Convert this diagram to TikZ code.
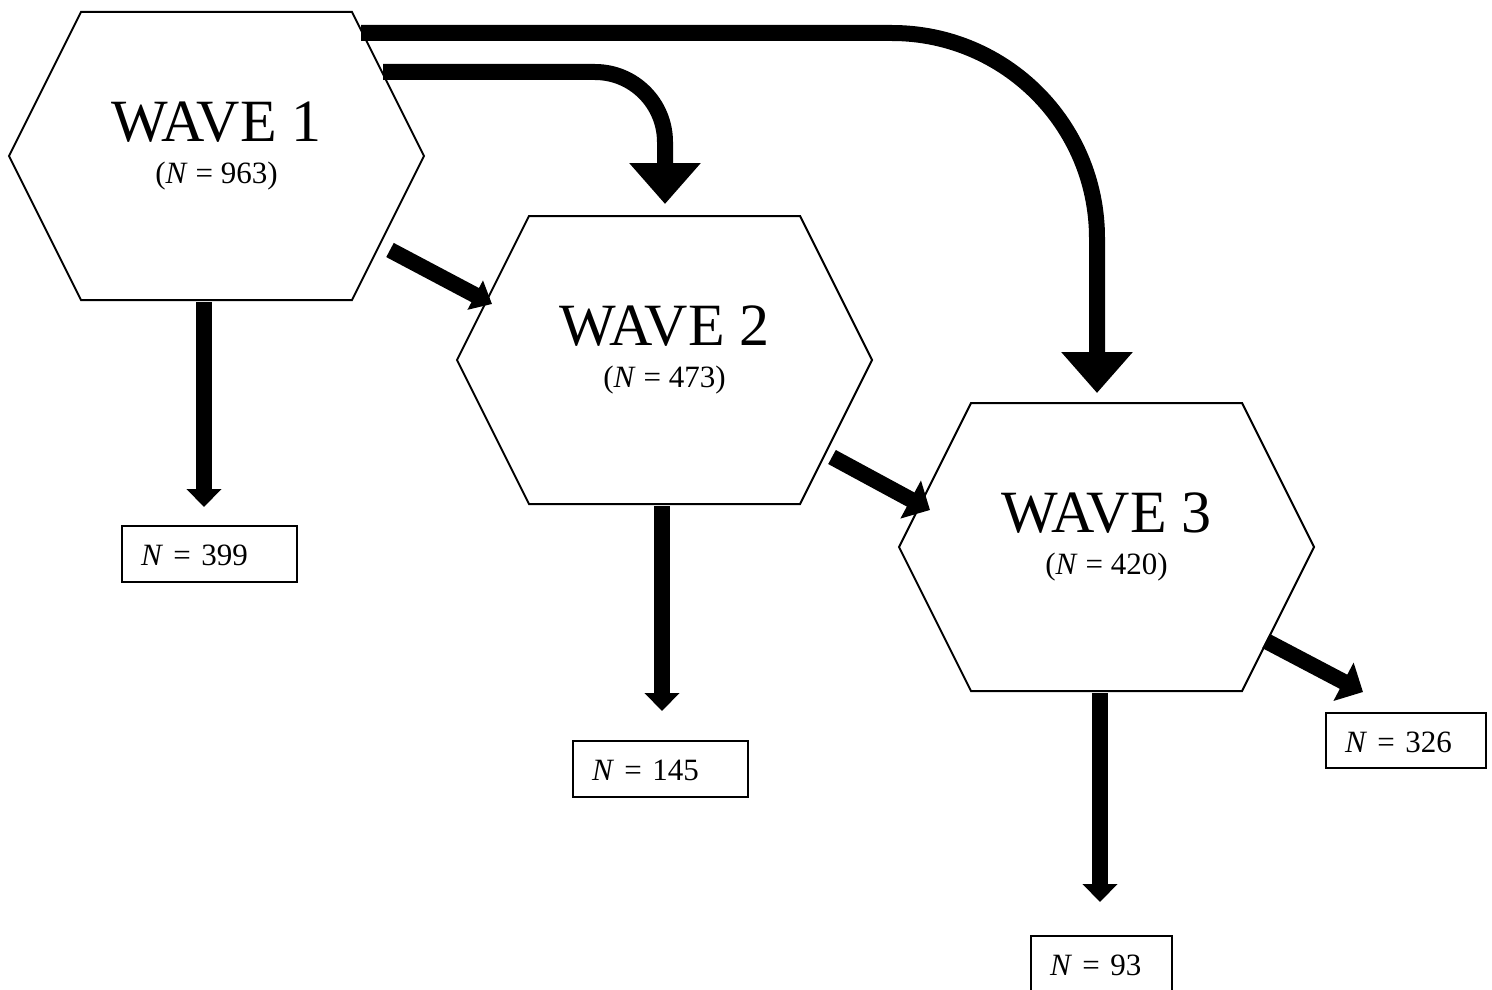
\documentclass[tikz,border=0pt]{standalone}
\usepackage{fontspec}
\setmainfont{Liberation Serif}
\usetikzlibrary{arrows.meta,calc}

\tikzset{
  hexbox/.style={minimum width=415pt, minimum height=288pt, inner sep=0pt, outer sep=0pt, draw=none},
  hexline/.style={line width=2pt, line join=miter},
  titletext/.style={anchor=base, inner sep=0pt, font=\fontsize{60}{72}\selectfont},
  subtext/.style={anchor=base, inner sep=0pt, font=\fontsize{31}{36}\selectfont},
  numbox/.style={draw, line width=2pt, outer sep=0pt, anchor=north west, inner xsep=19pt, inner ysep=0pt,
    text height=39pt, text depth=17pt, align=left, font=\fontsize{31}{36}\selectfont},
  flow/.style={line width=16pt},
  bigtip/.style={-{Triangle[width=69pt,length=41pt]}},
  downtip/.style={-{Triangle[width=34pt,length=18pt]}},
  slanttip/.style={-{Triangle[width=42pt,length=22pt]}},
  smalltip/.style={-{Triangle[width=32pt,length=19pt]}},
}

\begin{document}
\begin{tikzpicture}[x=1pt, y=-1pt]
  \useasboundingbox (0,0) rectangle (1492,990);

  % the three waves
  \node[hexbox] (w1) at (216.5,156) {};
  \node[hexbox] (w2) at (664.5,360) {};
  \node[hexbox] (w3) at (1106.5,547) {};
  \foreach \h in {w1,w2,w3}
    \draw[hexline] ($(\h.center)+(-135.5,-144)$) -- ++(271,0) -- ++(72,144)
      -- ++(-72,144) -- ++(-271,0) -- ++(-72,-144) -- cycle;

  \node[titletext] (w1t) at ($(w1.center)+(0,-15)$) {WAVE 1};
  \node[subtext]   (w1n) at ($(w1.center)+(0,27)$)  {(\textit{N} = 963)};
  \node[titletext] (w2t) at ($(w2.center)+(0,-15)$) {WAVE 2};
  \node[subtext]   (w2n) at ($(w2.center)+(0,27)$)  {(\textit{N} = 473)};
  \node[titletext] (w3t) at ($(w3.center)+(0,-15)$) {WAVE 3};
  \node[subtext]   (w3n) at ($(w3.center)+(0,27)$)  {(\textit{N} = 420)};

  % counts
  \node[numbox, text width=137pt] (b399) at (122,526)  {\textit{N} = 399};
  \node[numbox, text width=137pt] (b145) at (573,741)  {\textit{N} = 145};
  \node[numbox, text width=122pt, text depth=16pt] (b326) at (1326,713) {\textit{N} = 326};
  \node[numbox, text width=103pt] (b93)  at (1031,936) {\textit{N} = 93};

  % flows between waves
  \draw[flow, bigtip, rounded corners=205pt]
    ($(w1.center)+(144.5,-123)$) -| ($(w3.north)+(-9.5,-10)$);
  \draw[flow, bigtip, rounded corners=70pt]
    ($(w1.center)+(166.5,-84)$) -| ($(w2.north)+(0.5,-12)$);
  \draw[flow, smalltip] ($(w1.center)+(173.5,94)$) -- ($(w2.center)+(-172.5,-56)$);
  \draw[flow, slanttip] ($(w2.center)+(167.5,97)$) -- ($(w3.center)+(-176.5,-37)$);

  % flows to the counts, each straight down
  \coordinate (s1) at ($(w1.south)+(-12.5,2)$);
  \coordinate (s2) at ($(w2.south)+(-2.5,2)$);
  \coordinate (s3) at ($(w3.south)+(-6.5,2)$);
  \coordinate (e1) at ($(b399.north)+(0,-19)$);
  \coordinate (e2) at ($(b145.north)+(0,-30)$);
  \coordinate (e3) at ($(b93.north)+(0,-34)$);
  \draw[flow, downtip] (s1) -- (s1 |- e1);
  \draw[flow, downtip] (s2) -- (s2 |- e2);
  \draw[flow, downtip] (s3) -- (s3 |- e3);
  \draw[flow, slanttip] ($(w3.center)+(159.5,94)$) -- ($(b326.north west)+(37,-21)$);
\end{tikzpicture}
\end{document}
